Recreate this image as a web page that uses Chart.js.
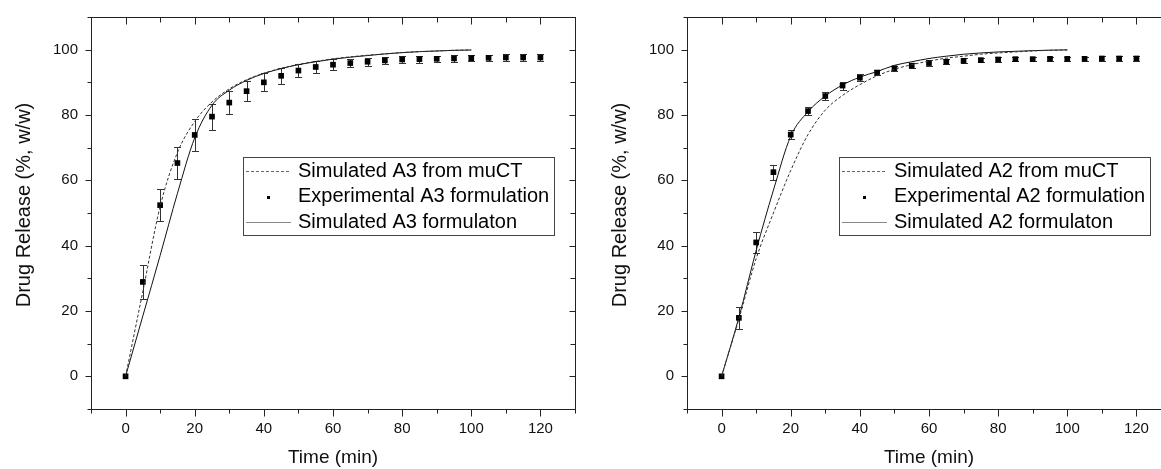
<!DOCTYPE html>
<html>
<head>
<meta charset="utf-8">
<title>Drug release</title>
<script src="https://cdn.jsdelivr.net/npm/chart.js@4.4.1/dist/chart.umd.min.js"></script>
<style>
  html, body { margin: 0; padding: 0; background: #fff; overflow: hidden; width: 1161px; height: 469px; }
  canvas { position: absolute; top: 0; }
  #chartA3 { left: 0; }
  #chartA2 { left: 596px; }   /* right panel is cut off at the window edge like the original */
</style>
</head>
<body>
<canvas id="chartA3" width="590" height="469"></canvas>
<canvas id="chartA2" width="590" height="469"></canvas>
<script>
// tick labels
const xTicks = [0, 20, 40, 60, 80, 100, 120];
const yTicks = [0, 20, 40, 60, 80, 100];

// experimental sampling times (min)
const timeExp = [0, 5, 10, 15, 20, 25, 30, 35, 40, 45, 50, 55, 60, 65, 70, 75, 80, 85, 90, 95, 100, 105, 110, 115, 120];
// simulated curves time base (min)
const timeSim = [0, 5, 10, 15, 20, 25, 30, 35, 40, 45, 50, 55, 60, 65, 70, 75, 80, 85, 90, 95, 100];

// A3
const a3Exp = [0, 28.9, 52.4, 65.3, 73.9, 79.5, 83.8, 87.3, 90.0, 92.0, 93.6, 94.7, 95.4, 95.9, 96.3, 96.7, 97.0, 97.1, 97.2, 97.3, 97.4, 97.5, 97.6, 97.6, 97.6];
const a3Err = [0, 5.3, 5.0, 4.9, 5.0, 4.0, 3.5, 3.0, 2.8, 2.5, 2.0, 1.7, 1.6, 1.3, 1.2, 1.2, 1.1, 1.1, 1.0, 1.0, 1.0, 1.0, 1.0, 1.0, 1.0];
const a3SimCT = [0, 26, 52, 68.5, 78, 84, 88, 90.8, 92.8, 94.3, 95.5, 96.4, 97.2, 97.8, 98.3, 98.7, 99.1, 99.4, 99.6, 99.8, 99.9];
const a3SimForm = [0, 18.5, 37, 56, 73, 83, 87.6, 90.6, 92.7, 94.2, 95.4, 96.3, 97.1, 97.7, 98.2, 98.7, 99.1, 99.4, 99.6, 99.8, 99.9];
const a3Labels = ['Simulated A3 from muCT', 'Experimental A3 formulation', 'Simulated A3 formulaton'];

// A2
const a2Exp = [0, 17.9, 41.0, 62.5, 74.0, 81.2, 85.8, 89.0, 91.4, 93.0, 94.3, 95.1, 95.9, 96.3, 96.6, 96.8, 97.0, 97.1, 97.1, 97.2, 97.2, 97.2, 97.3, 97.3, 97.3];
const a2Err = [0, 3.3, 3.2, 2.3, 1.3, 1.2, 1.1, 1.2, 1.0, 0.9, 0.8, 0.8, 0.8, 0.7, 0.7, 0.7, 0.7, 0.7, 0.7, 0.7, 0.7, 0.7, 0.7, 0.7, 0.7];
const a2SimCT = [0, 17.5, 36, 50, 63, 74, 81.5, 86, 89.3, 92, 94, 95.4, 96.5, 97.4, 98, 98.6, 99, 99.3, 99.6, 99.8, 99.9];
const a2SimForm = [0, 18, 38.5, 57, 73.5, 81, 85.8, 89.2, 91.6, 93.3, 95.2, 96.3, 97.3, 98, 98.6, 99, 99.3, 99.5, 99.7, 99.85, 99.95];
const a2Labels = ['Simulated A2 from muCT', 'Experimental A2 formulation', 'Simulated A2 formulaton'];

const FONT = '"Liberation Sans", Arial, sans-serif';
Chart.defaults.font.family = FONT;
Chart.defaults.color = '#111';

const px = v => Math.round(v) + 0.5;

// frame box + origin-style ticks (out on bottom/left, in on top/right)
const frameTicks = {
  id: 'frameTicks',
  afterDraw(chart) {
    const {ctx, chartArea: a, scales: {x, y}} = chart;
    const L = px(a.left), R = px(a.right), T = px(a.top), B = px(a.bottom);
    ctx.save();
    ctx.strokeStyle = '#222';
    ctx.lineWidth = 1;
    ctx.strokeRect(L, T, R - L, B - T);
    ctx.beginPath();
    for (let v = x.min; v <= x.max; v += 10) {
      const xp = px(x.getPixelForValue(v));
      const major = xTicks.includes(v);
      ctx.moveTo(xp, B); ctx.lineTo(xp, B + (major ? 7 : 4));
      ctx.moveTo(xp, T); ctx.lineTo(xp, T + (major ? 7 : 5));
    }
    for (let v = y.min; v <= y.max; v += 10) {
      const yp = px(y.getPixelForValue(v));
      const major = yTicks.includes(v);
      ctx.moveTo(L, yp); ctx.lineTo(L - (major ? 6 : 4), yp);
      ctx.moveTo(R, yp); ctx.lineTo(R - (major ? 6 : 5), yp);
    }
    ctx.stroke();
    ctx.restore();
  }
};

// y axis title, drawn by hand so it can sit a bit above the axis centre
const yTitle = {
  id: 'yTitle',
  afterDraw(chart, args, opts) {
    const {ctx, chartArea: a} = chart;
    ctx.save();
    ctx.translate(opts.x, (a.top + a.bottom) / 2 + opts.shift);
    ctx.rotate(-Math.PI / 2);
    ctx.font = '20px ' + FONT;
    ctx.fillStyle = '#111';
    ctx.textAlign = 'center';
    ctx.textBaseline = 'middle';
    ctx.fillText(opts.text, 0, 0);
    ctx.restore();
  }
};

// vertical error bars with caps
const errorBars = {
  id: 'errorBars',
  beforeDatasetsDraw(chart) {
    const {ctx, scales: {x, y}} = chart;
    chart.data.datasets.forEach(ds => {
      if (!ds.errors) return;
      ctx.save();
      ctx.strokeStyle = '#333';
      ctx.lineWidth = 1;
      ctx.beginPath();
      ds.data.forEach((p, i) => {
        const e = ds.errors[i];
        if (!e) return;
        const xp = px(x.getPixelForValue(p.x));
        const top = px(y.getPixelForValue(p.y + e));
        const bot = px(y.getPixelForValue(p.y - e));
        ctx.moveTo(xp, top); ctx.lineTo(xp, bot);
        ctx.moveTo(xp - 3.5, top); ctx.lineTo(xp + 3.5, top);
        ctx.moveTo(xp - 3.5, bot); ctx.lineTo(xp + 3.5, bot);
      });
      ctx.stroke();
      ctx.restore();
    });
  }
};

// boxed legend inside the plot
const boxLegend = {
  id: 'boxLegend',
  afterDraw(chart, args, opts) {
    const {ctx, chartArea: a} = chart;
    const bx = Math.round(a.left + opts.x), by = Math.round(a.top + opts.y);
    ctx.save();
    ctx.strokeStyle = '#444';
    ctx.lineWidth = 1;
    ctx.strokeRect(bx + 0.5, by + 0.5, opts.w, opts.h);
    ctx.font = '20px ' + FONT;
    ctx.textBaseline = 'middle';
    chart.data.datasets.forEach((ds, i) => {
      const cy = by + 14 + i * 25.5;
      if (ds.showLine) {
        ctx.strokeStyle = ds.borderDash.length ? '#666' : '#888';
        ctx.setLineDash(ds.borderDash);
        ctx.beginPath();
        ctx.moveTo(bx + 3, px(cy)); ctx.lineTo(bx + 48, px(cy));
        ctx.stroke();
        ctx.setLineDash([]);
      } else {
        ctx.fillStyle = '#000';
        ctx.fillRect(bx + 24, Math.round(cy) - 1, 3, 3);
      }
      ctx.fillStyle = '#000';
      ctx.fillText(ds.label, bx + 55, cy);
    });
    ctx.restore();
  }
};

function pts(xs, ys) {
  return xs.map((t, i) => ({x: t, y: ys[i]}));
}

function makeChart(id, labels, exp, err, simCT, simForm) {
  return new Chart(document.getElementById(id), {
    type: 'scatter',
    data: {
      datasets: [
        {
          label: labels[0], data: pts(timeSim, simCT), showLine: true,
          borderColor: '#333', borderWidth: 1, borderDash: [3, 2],
          pointRadius: 0, cubicInterpolationMode: 'monotone'
        },
        {
          label: labels[1], data: pts(timeExp, exp), errors: err, showLine: false,
          pointStyle: 'rect', pointRadius: 4, pointBorderWidth: 0,
          backgroundColor: '#000', borderColor: '#000'
        },
        {
          label: labels[2], data: pts(timeSim, simForm), showLine: true,
          borderColor: '#111', borderWidth: 1, borderDash: [],
          pointRadius: 0, cubicInterpolationMode: 'monotone'
        }
      ]
    },
    options: {
      responsive: false,
      animation: false,
      layout: {padding: {top: 17, right: 15, left: 0, bottom: 0}},
      plugins: {
        legend: {display: false},
        tooltip: {enabled: false},
        boxLegend: {x: 152, y: 140, w: 311, h: 78},
        yTitle: {text: 'Drug Release (%, w/w)', x: 24, shift: -8}
      },
      scales: {
        x: {
          type: 'linear', min: -10, max: 130,
          afterBuildTicks: s => { s.ticks = xTicks.map(v => ({value: v})); },
          // fixed axis size, no extra label padding
          afterFit: s => { s.height = 60; s.paddingLeft = 0; s.paddingRight = 0; },
          grid: {display: false, drawTicks: false},
          border: {display: false},
          ticks: {padding: 11, autoSkip: false, maxRotation: 0, font: {size: 15}, color: '#111'},
          title: {display: true, text: 'Time (min)', font: {size: 19}, color: '#111', padding: {top: 0, bottom: 0}}
        },
        y: {
          type: 'linear', min: -10, max: 110,
          afterBuildTicks: s => { s.ticks = yTicks.map(v => ({value: v})); },
          afterFit: s => { s.width = 91; s.paddingTop = 0; s.paddingBottom = 0; },
          grid: {display: false, drawTicks: false},
          border: {display: false},
          ticks: {padding: 13, autoSkip: false, font: {size: 15}, color: '#111'},
          title: {display: false}
        }
      }
    },
    plugins: [errorBars, frameTicks, boxLegend, yTitle]
  });
}

makeChart('chartA3', a3Labels, a3Exp, a3Err, a3SimCT, a3SimForm);
makeChart('chartA2', a2Labels, a2Exp, a2Err, a2SimCT, a2SimForm);
</script>
</body>
</html>
